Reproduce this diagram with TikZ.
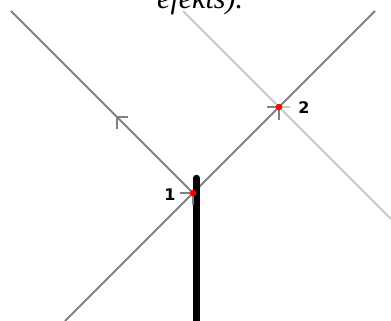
\documentclass[tikz,border=0pt]{standalone}
\usepackage{fontspec}
\setmainfont{Liberation Serif}
\newfontfamily\labfont{DejaVu Sans Bold}
\usetikzlibrary{calc}
\begin{document}
\begin{tikzpicture}[x=1pt,y=-1pt,
  darkline/.style={draw=black!50,line width=1.8pt},
  lightline/.style={draw=black!22,line width=1.8pt},
  darktick/.style={draw=black!50,line width=1.4pt},
  lighttick/.style={draw=black!22,line width=1.4pt},
  wire/.style={draw=black,line width=6.5pt,line cap=round},
  reddot/.style={circle,fill=red,inner sep=0pt,minimum size=6.5pt},
  numlab/.style={font=\labfont\fontsize{16}{16}\selectfont,inner sep=0pt}]
\useasboundingbox (0,0) rectangle (391,321);
\clip (0,0) rectangle (391,321);
% title (cut off at the top, as in the reference)
\node[anchor=base west,inner sep=0pt,font=\itshape\fontsize{30}{30}\selectfont] (title) at (157,9) {efekts).};
% points
\coordinate (p1) at (193,193);
\coordinate (p2) at (279,107);
\coordinate (tl) at (11,11);
\coordinate (tr) at (375,11);
\coordinate (bl) at (65,321);
\coordinate (lt) at (183,11);
\coordinate (lb) at (391,219);
\coordinate (wtop) at (196.5,178);
\coordinate (wbot) at (196.5,330);
% lines
\draw[lightline] (lt) -- (lb);
\draw[darkline] (tl) -- (p1);
\draw[darkline] (bl) -- (tr);
% arrow chevrons
\coordinate (mid) at (117,117);
\draw[darktick] ($(mid)+(11,0)$) -- (mid) -- ($(mid)+(0,12)$);
\draw[lighttick] ($(p2)+(11,0)$) -- (p2) -- ($(p2)+(0,12)$);
\draw[darktick] ($(p2)+(-12,0)$) -- (p2) -- ($(p2)+(0,13)$);
% wire
\draw[wire] (wtop) -- (wbot);
\draw[darktick] ($(p1)+(-13,0)$) -- (p1) -- ($(p1)+(0,12)$);
% dots
\node[reddot] (d1) at (p1) {};
\node[reddot] (d2) at (p2) {};
% labels
\node[numlab] (l1) at (170,195) {1};
\node[numlab] (l2) at (304,108) {2};
\end{tikzpicture}
\end{document}
